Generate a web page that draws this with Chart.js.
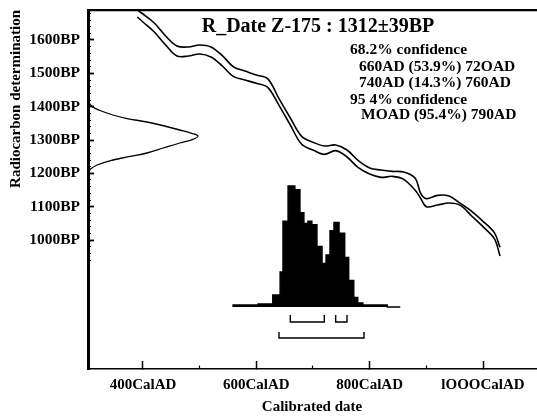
<!DOCTYPE html>
<html>
<head>
<meta charset="utf-8">
<script src="https://cdn.jsdelivr.net/npm/chart.js@4.4.1/dist/chart.umd.min.js"></script>
<style>
  html, body { margin: 0; padding: 0; background: #fff; }
  #wrap { width: 537px; height: 416px; position: relative; }
</style>
</head>
<body>
<div id="wrap"><canvas id="calChart"></canvas></div>
<script>
// calibration curve (two lines, +/- 1 sigma)
const calYears = [370, 390, 400, 420, 440, 460, 480, 500, 520, 540, 560, 580, 600, 620, 640, 660, 680, 700,
  720, 740, 760, 780, 800, 820, 840, 860, 880, 890, 900, 920, 940, 960, 980, 1000, 1020, 1030];
const curveUpper = [1720, 1690, 1678, 1651, 1612, 1582, 1579, 1585, 1579, 1553, 1519, 1507, 1495, 1484, 1424, 1366, 1311, 1293,
  1282, 1285, 1270, 1238, 1216, 1210, 1206, 1204, 1186, 1140, 1124, 1134, 1132, 1110, 1086, 1056, 1022, 978];
const curveLower = [null, 1669, 1654, 1624, 1585, 1552, 1552, 1558, 1549, 1522, 1490, 1480, 1470, 1458, 1404, 1345, 1287, 1270,
  1257, 1268, 1249, 1217, 1198, 1188, 1191, 1182, 1150, 1125, 1100, 1105, 1111, 1104, 1072, 1040, 1004, 952];

// measured date 1312±39BP drawn along the BP axis (height given in years on the x axis)
const gaussBP   = [1425, 1414, 1400, 1390, 1375, 1365, 1354, 1342, 1330, 1320, 1312, 1302, 1291, 1276, 1261, 1250, 1240, 1225, 1212, 1200];
const gaussYear = [303, 304, 311, 322, 347, 370, 407, 438, 465, 486, 497, 488, 465, 436, 407, 375, 347, 319, 307, 303];

// calibrated probability (relative to the highest bin)
const histEdges = [559, 603, 629, 642, 647, 656, 668, 677, 684, 691, 698, 707, 716, 723, 730, 737, 746, 756, 763, 772, 779, 788, 806, 831, 854];
const histProb  = [0, 0.017, 0.025, 0.10, 0.29, 0.71, 1.0, 0.97, 0.78, 0.69, 0.71, 0.68, 0.50, 0.36, 0.43, 0.63, 0.70, 0.61, 0.41, 0.22, 0.08, 0.033, 0.017, 0.017];

const range68 = [[660, 720], [740, 760]];
const range95 = [[640, 790]];

const yTicks = [1000, 1100, 1200, 1300, 1400, 1500, 1600];
const yMinorTicks = [];
for (let v = 940; v <= 1680; v += 20) yMinorTicks.push(v);
const xTicks = [400, 600, 800, 1000];
const xTickLabels = ['400CalAD', '600CalAD', '800CalAD', 'lOOOCalAD'];
const xMinorTicks = [500, 700, 900];

const titleText = 'R_Date Z-175 : 1312\u00b139BP';
const summary = [
  { text: '68.2% confidence', x: 350, y: 50 },
  { text: '660AD (53.9%) 72OAD', x: 359, y: 67 },
  { text: '740AD (14.3%) 760AD', x: 359, y: 83 },
  { text: '95 4% confidence', x: 350, y: 100 },
  { text: 'MOAD (95.4%) 790AD', x: 361, y: 115 }
];

const serif = '"Liberation Serif", "DejaVu Serif", serif';
Chart.defaults.font.family = serif;
Chart.defaults.color = '#000';

function lineSet(points, extra) {
  return Object.assign({
    data: points,
    borderColor: '#000',
    borderWidth: 1.6,
    pointRadius: 0,
    fill: false,
    xAxisID: 'x',
    yAxisID: 'y'
  }, extra);
}

function bracket(r, top, bottom) {
  return lineSet([
    { x: r[0], y: top }, { x: r[0], y: bottom }, { x: r[1], y: bottom }, { x: r[1], y: top }
  ], { yAxisID: 'yProb', borderWidth: 1.4, tension: 0 });
}

const histPoints = histProb.map((p, i) => ({ x: histEdges[i], y: p }));
histPoints.push({ x: histEdges[histEdges.length - 1], y: 0 });

const datasets = [
  lineSet(calYears.map((x, i) => ({ x, y: curveUpper[i] })), { tension: 0.35 }),
  lineSet(calYears.map((x, i) => ({ x, y: curveLower[i] })), { tension: 0.35 }),
  lineSet(gaussBP.map((b, i) => ({ x: gaussYear[i], y: b })), { tension: 0.4, borderWidth: 1.3 }),
  lineSet(histPoints, { yAxisID: 'yProb', stepped: 'after', fill: 'origin', backgroundColor: '#000', borderWidth: 1.4 })
];
range68.forEach(r => datasets.push(bracket(r, -0.066, -0.124)));
range95.forEach(r => datasets.push(bracket(r, -0.206, -0.256)));

const notes = {
  id: 'notes',
  afterDraw(chart) {
    const c = chart.ctx;
    c.save();
    c.fillStyle = '#000';
    c.textBaseline = 'middle';
    c.textAlign = 'center';
    c.font = 'bold 20px ' + serif;
    c.fillText(titleText, 318, 27);
    c.textAlign = 'left';
    c.font = 'bold 15.5px ' + serif;
    summary.forEach(s => c.fillText(s.text, s.x, s.y));
    c.restore();
  }
};

const setTicks = list => scale => { scale.ticks = list.map(v => ({ value: v })); };
// fixed box sizes, no extra room for edge labels
const fixBox = (w, h) => s => {
  if (w !== null) s.width = w;
  if (h !== null) s.height = h;
  s.paddingTop = 0; s.paddingBottom = 0; s.paddingLeft = 0; s.paddingRight = 0;
};
const noGrid = { drawOnChartArea: false, tickColor: '#000' };

new Chart(document.getElementById('calChart'), {
  type: 'line',
  data: { datasets },
  plugins: [notes],
  options: {
    responsive: true,
    maintainAspectRatio: false,
    animation: false,
    layout: { padding: { top: 10, left: 0, right: 1, bottom: 0 } },
    plugins: { legend: { display: false }, tooltip: { enabled: false } },
    scales: {
      x: {
        type: 'linear', position: 'bottom', min: 303, max: 1093.5, weight: 1,
        afterBuildTicks: setTicks(xTicks),
        ticks: {
          callback: (v, i) => xTickLabels[i],
          font: { size: 15, weight: 'bold' }, color: '#000', padding: 15, maxRotation: 0, autoSkip: false
        },
        grid: Object.assign({ tickLength: -8, tickWidth: 1.5 }, noGrid),
        border: { color: '#000', width: 1.5 },
        title: { display: true, text: 'Calibrated date', font: { size: 15, weight: 'bold' }, color: '#000', padding: 0 },
        afterFit: fixBox(null, 47)
      },
      xMinor: {
        type: 'linear', position: 'bottom', min: 303, max: 1093.5, weight: 0,
        afterBuildTicks: setTicks(xMinorTicks),
        ticks: { display: false },
        grid: Object.assign({ tickLength: -3.5, tickWidth: 1.2 }, noGrid),
        border: { display: false },
        afterFit: fixBox(null, 0)
      },
      xTop: {
        type: 'linear', position: 'top', weight: 0,
        ticks: { display: false },
        grid: { drawOnChartArea: false, drawTicks: false },
        border: { color: '#000', width: 2.2 },
        afterFit: fixBox(null, 0)
      },
      y: {
        type: 'linear', position: 'left', min: 613, max: 1690, weight: 1,
        afterBuildTicks: setTicks(yTicks),
        ticks: { callback: v => v + 'BP', font: { size: 15.5, weight: 'bold' }, color: '#000', padding: 14 },
        grid: Object.assign({ tickLength: -6, tickWidth: 1.8 }, noGrid),
        border: { color: '#000', width: 3 },
        title: {
          display: true, text: 'Radiocarbon determination', align: 'end',
          font: { size: 15, weight: 'bold' }, color: '#000', padding: { top: 7, bottom: 0 }
        },
        afterFit: fixBox(88, null)
      },
      yMinor: {
        type: 'linear', position: 'left', min: 613, max: 1690, weight: 0,
        afterBuildTicks: setTicks(yMinorTicks),
        ticks: { display: false },
        grid: Object.assign({ tickLength: -3, tickWidth: 1 }, noGrid),
        border: { display: false },
        afterFit: fixBox(0, null)
      },
      yProb: { type: 'linear', display: false, min: -0.512, max: 2.455 }
    }
  }
});
</script>
</body>
</html>
